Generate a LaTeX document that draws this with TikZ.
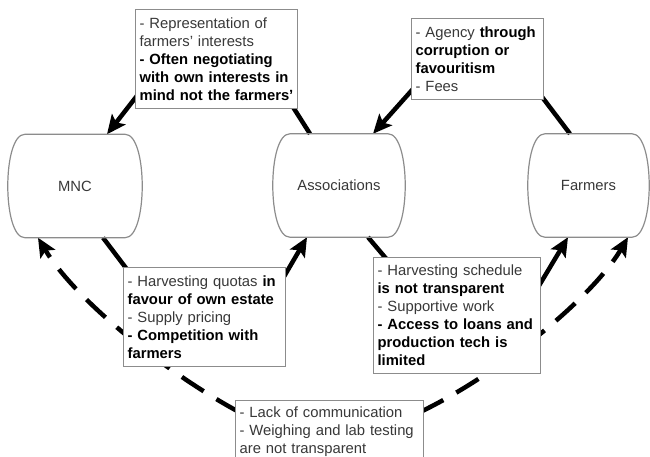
\documentclass[tikz,border=0pt]{standalone}
\usepackage{fontspec}
\setmainfont{Liberation Sans}
\usepackage{tikz}
\usetikzlibrary{arrows.meta, backgrounds}
\definecolor{boxgray}{rgb}{0.55, 0.55, 0.55}
\definecolor{textgray}{rgb}{0.22, 0.22, 0.22}
\tikzstyle{actor} = [rectangle, minimum height=103pt, inner sep=0pt, text=textgray, font=\fontsize{14.8}{18}\selectfont,
    append after command={\pgfextra{\let\actornode\tikzlastnode
        \draw[boxgray, line width=1.2pt] ([xshift=17pt]\actornode.north west) -- ([xshift=-17pt]\actornode.north east)
            .. controls ([xshift=5.7pt]\actornode.north east) and ([xshift=5.7pt]\actornode.south east) .. ([xshift=-17pt]\actornode.south east)
            -- ([xshift=17pt]\actornode.south west)
            .. controls ([xshift=-5.7pt]\actornode.south west) and ([xshift=-5.7pt]\actornode.north west) .. cycle;}}]
\tikzstyle{note} = [rectangle, anchor=north west, draw=boxgray, line width=1.2pt, fill=white, inner xsep=4pt, inner ysep=0pt, align=left, text=textgray, font=\fontsize{14.8}{18}\selectfont]
\tikzstyle{arrow} = [line width=4.5pt, ->, >={Stealth[length=19pt, width=17pt, inset=4pt]}]
\tikzstyle{link} = [line width=4.5pt]
\tikzstyle{dasharrow} = [arrow, dash pattern=on 26pt off 15pt]
\newcommand{\keypoint}[1]{\textbf{\color{black}#1}}

\begin{document}
\begin{tikzpicture}[x=1pt, y=-1pt]
    \useasboundingbox (0,0) rectangle (650,457);

        % Actors
        \node (mnc) [actor, minimum width=134pt] at (75,186) {MNC};
        \node (assoc) [actor, minimum width=132pt] at (339,185.5) {Associations};
        \node (farmers) [actor, minimum width=121pt] at (588.5,185.5) {Farmers};

        % Notes
        \node (represent) [note, text width=154pt, minimum height=99pt] at (135,9) {- Representation of\\ farmers' interests\\ \keypoint{- Often negotiating\\ with own interests in\\ mind not the farmers'}};
        \node (agency) [note, text width=124pt, minimum height=81pt] at (411,18) {- Agency \keypoint{through\\ corruption or\\ favouritism}\\ - Fees};
        \node (quotas) [note, text width=154pt, minimum height=99pt] at (123,267) {- Harvesting quotas \keypoint{in\\ favour of own estate}\\ - Supply pricing\\ \keypoint{- Competition with\\ farmers}};
        \node (schedule) [note, text width=159pt, minimum height=116pt] at (373,257) {- Harvesting schedule\\ \keypoint{is not transparent}\\ - Supportive work\\ \keypoint{- Access to loans and\\ production tech is\\ limited}};
        \node (lack) [note, text width=180pt, minimum height=62pt] at (235,400) {- Lack of communication\\ - Weighing and lab testing\\ are not transparent};

        % Arrows
        \begin{pgfonlayer}{background}
        \draw [arrow] ([xshift=4pt, yshift=16pt]represent.south west) -- ([xshift=32pt]mnc.north);
        \draw [link] ([xshift=-29pt]assoc.north) -- ([xshift=-7pt, yshift=5pt]represent.south east);
        \draw [arrow] ([xshift=4pt, yshift=13.5pt]agency.south west) -- ([xshift=34pt]assoc.north);
        \draw [link] ([xshift=-18.5pt]farmers.north) -- ([xshift=-5pt, yshift=7pt]agency.south east);
        \draw [link] ([xshift=28pt]mnc.south) -- ([xshift=6pt, yshift=-5pt]quotas.north west);
        \draw [arrow] ([xshift=-3pt, yshift=-11pt]quotas.north east) -- ([xshift=-32pt]assoc.south);
        \draw [link] ([xshift=29pt]assoc.south) -- ([xshift=16pt, yshift=-5pt]schedule.north west);
        \draw [arrow] ([xshift=-3pt, yshift=-30pt]schedule.north east) -- ([xshift=-20.5pt]farmers.south);
        \draw [dasharrow] ([xshift=4pt, yshift=-12pt]lack.north west) .. controls +(-74,-40) and +(37,62) .. ([xshift=-37pt]mnc.south);
        \draw [dasharrow] ([xshift=-4pt, yshift=-12pt]lack.north east) .. controls +(79,-38) and +(-35,60) .. ([xshift=39.5pt]farmers.south);
        \end{pgfonlayer}

    \end{tikzpicture}
\end{document}
